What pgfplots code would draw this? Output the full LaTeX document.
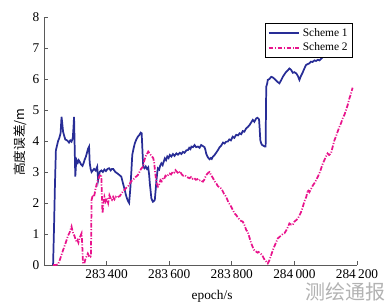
\documentclass[border=0pt]{standalone}
\usepackage{fontspec}
\setmainfont{Liberation Serif}
\newfontfamily\cjk{Noto Sans CJK SC}
\usepackage{pgfplots}
\pgfplotsset{compat=1.18}
\definecolor{sblue}{RGB}{40,45,150}
\definecolor{smag}{RGB}{232,20,140}
\definecolor{axgray}{RGB}{90,90,90}
\begin{document}
\begin{tikzpicture}
\useasboundingbox (-33pt,-30.75pt) rectangle (260.25pt,198.75pt);
\begin{axis}[
  at={(0pt,0pt)}, anchor=south west,
  scale only axis, width=234.75pt, height=186pt,
  xmin=283200, xmax=284200, ymin=0, ymax=8,
  scaled x ticks=false, scaled y ticks=false,
  axis x line=bottom, axis y line=left,
  axis line style={-, color=axgray, line width=0.6pt},
  tick style={color=axgray, line width=0.6pt},
  tick align=inside, major tick length=3pt,
  xtick={283400,283600,283800,284000,284200},
  xticklabels={283\,400,283\,600,283\,800,284\,000,284\,200},
  ytick={0,1,2,3,4,5,6,7,8},
  /pgf/number format/assume math mode=true,
  tick label style={font=\fontsize{10}{12}\selectfont},
  xlabel={epoch/s},
  xlabel style={at={(axis description cs:0.537,0)}, anchor=center, yshift=-23.25pt, font=\fontsize{10}{12}\selectfont},
  ylabel={\cjk 高度误差/m},
  ylabel style={at={(axis description cs:-0.077,0.496)}, anchor=center, font=\fontsize{9.5}{12}\selectfont},
  legend style={at={(0.987,0.976)}, anchor=north east, draw=black, line width=0.6pt,
    fill=white, font=\fontsize{8.6}{9.5}\selectfont, inner sep=1.6pt, row sep=-0.5pt,
    cells={anchor=west}},
  legend image code/.code={\draw[#1] (0pt,0pt) -- (23pt,0pt);},
]
\addplot[sblue, line width=1.3pt] coordinates {
(283229,0) (283232,1.2) (283235,2.6) (283238,3.7) (283242,3.87) (283245,4.0) (283249,4.1)
(283253,4.25) (283256,4.78) (283258,4.6) (283261,4.3) (283265,4.15) (283268,4.05) (283272,4.03)
(283276,4.0) (283280,3.95) (283284,4.02) (283288,3.98) (283292,4.1) (283294,4.4) (283296,4.78)
(283298,3.8) (283300,2.85) (283302,3.2) (283304,3.39) (283308,3.3) (283311,3.38) (283314,3.33)
(283318,3.25) (283323,3.2) (283327,3.3) (283330,3.4) (283334,3.5) (283338,3.65) (283341,3.76)
(283344,3.82) (283346,3.3) (283349,3.1) (283352,3.0) (283356,3.05) (283360,3.1) (283365,3.05)
(283370,3.17) (283373,2.74) (283376,2.9) (283378,3.0) (283383,3.05) (283388,3.0) (283393,3.08)
(283398,3.03) (283403,3.1) (283408,3.12) (283413,3.05) (283417,3.1) (283421,3.1) (283428,3.0)
(283435,2.95) (283441,2.9) (283447,2.85) (283452,2.65) (283458,2.42) (283462,2.25) (283465,2.15)
(283469,2.05) (283472,2.0) (283474,2.25) (283476,2.5) (283479,3.0) (283482,3.55) (283486,3.75)
(283490,3.92) (283495,4.05) (283500,4.14) (283505,4.2) (283509,4.27) (283512,4.25)
(283515,3.6) (283517,3.17) (283521,3.12) (283525,3.18) (283529,3.1) (283533,3.15) (283536,2.9)
(283538,2.64) (283541,2.35) (283543,2.15) (283546,2.08) (283548,2.04) (283551,2.06) (283554,2.1)
(283557,2.45) (283559,2.7) (283562,3.0) (283564,3.12) (283568,3.08) (283571,3.2) (283575,3.28)
(283579,3.22) (283583,3.35) (283586,3.44) (283590,3.38) (283594,3.5) (283598,3.45) (283602,3.55)
(283607,3.5) (283612,3.58) (283617,3.52) (283623,3.6) (283628,3.56) (283634,3.62) (283639,3.58)
(283644,3.65) (283649,3.62) (283655,3.7) (283660,3.71) (283664,3.78) (283668,3.74) (283671,3.82)
(283676,3.8) (283681,3.87) (283686,3.8) (283692,3.82) (283697,3.78) (283702,3.87) (283707,3.84)
(283713,3.8) (283716,3.7) (283718,3.6) (283722,3.5) (283726,3.44) (283729,3.41) (283733,3.45)
(283736,3.42) (283740,3.5) (283745,3.55) (283750,3.62) (283756,3.71) (283761,3.8) (283766,3.85)
(283772,3.95) (283777,3.92) (283782,3.98) (283787,3.98) (283792,4.05) (283797,4.02) (283803,4.14)
(283808,4.1) (283814,4.2) (283820,4.18) (283825,4.25) (283830,4.22) (283835,4.32) (283840,4.3)
(283846,4.41) (283851,4.45) (283857,4.52) (283862,4.6) (283867,4.68) (283872,4.62) (283878,4.73)
(283882,4.75) (283887,4.7) (283889,4.4) (283891,4.03) (283894,3.92) (283897,3.87) (283901,3.85)
(283905,3.82) (283908,3.82) (283909,4.8) (283910,5.75) (283913,5.85) (283915,5.97) (283920,6.0)
(283926,6.07) (283931,6.05) (283937,6.0) (283942,5.95) (283947,5.9) (283952,5.86) (283957,5.95)
(283963,6.07) (283968,6.15) (283973,6.22) (283979,6.28) (283984,6.34) (283989,6.3) (283995,6.2)
(284000,6.22) (284006,6.18) (284011,6.1) (284016,5.97) (284019,6.05) (284021,6.1) (284026,6.2)
(284031,6.32) (284037,6.45) (284042,6.48) (284047,6.5) (284053,6.56) (284058,6.55) (284064,6.6)
(284069,6.58) (284075,6.62) (284080,6.6) (284085,6.65) (284090,6.7) (284096,6.72) (284101,6.77)
(284106,6.8) (284112,6.83) (284117,6.8) (284122,6.86) (284128,6.88) (284133,7.04) (284140,7.1)
(284150,7.18) (284160,7.25) (284170,7.33) (284180,7.42)
};
\addlegendentry{Scheme 1}
\addplot[smag, line width=1.3pt, dash pattern=on 3.5pt off 1.2pt on 0.8pt off 1.2pt] coordinates {
(283229,0) (283237,0) (283245,0.02) (283250,0.15) (283255,0.3) (283261,0.48) (283266,0.62)
(283272,0.8) (283277,0.95) (283282,1.05) (283285,1.15) (283288,1.24) (283291,1.1) (283294,1.0)
(283297,0.95) (283300,0.85) (283304,0.75) (283307,0.8) (283310,0.72) (283313,0.85) (283317,0.95)
(283320,1.02) (283322,0.7) (283324,0.2) (283325,0.05) (283329,0.05) (283332,0.18) (283336,0.28)
(283340,0.37) (283343,0.3) (283346,0.33) (283349,0.28) (283350,0.3) (283351,1.2) (283352,2.1)
(283356,2.26) (283360,2.2) (283364,2.42) (283368,2.6) (283372,2.74) (283376,2.84) (283380,2.92)
(283383,2.9) (283385,2.2) (283387,1.67) (283390,2.0) (283393,2.2) (283397,2.05) (283401,2.15)
(283405,2.0) (283409,2.25) (283413,2.15) (283417,2.1) (283421,2.2) (283425,2.12) (283429,2.2)
(283433,2.17) (283437,2.2) (283442,2.22) (283447,2.3) (283452,2.37) (283457,2.42) (283462,2.48)
(283468,2.53) (283473,2.6) (283478,2.7) (283484,2.74) (283489,2.8) (283494,2.85) (283500,2.9)
(283505,3.0) (283510,3.1) (283516,3.17) (283520,3.35) (283524,3.49) (283527,3.55) (283530,3.6)
(283533,3.66) (283537,3.6) (283541,3.55) (283545,3.5) (283549,3.45) (283552,3.3) (283555,3.0)
(283558,2.75) (283561,2.6) (283564,2.53) (283568,2.6) (283572,2.74) (283576,2.7) (283580,2.8)
(283584,2.78) (283588,2.88) (283592,2.85) (283596,2.9) (283601,2.95) (283606,2.92) (283611,3.0)
(283616,2.98) (283620,3.06) (283625,3.0) (283630,2.95) (283635,3.02) (283640,2.92) (283645,2.88)
(283650,2.9) (283655,2.85) (283660,2.82) (283665,2.8) (283670,2.84) (283675,2.78) (283680,2.8)
(283685,2.75) (283690,2.77) (283695,2.72) (283700,2.74) (283705,2.7) (283708,2.69) (283712,2.75)
(283716,2.85) (283720,2.92) (283725,2.98) (283729,3.0) (283734,2.9) (283740,2.8) (283745,2.7)
(283750,2.64) (283755,2.55) (283760,2.5) (283766,2.47) (283770,2.4) (283775,2.3) (283782,2.2)
(283786,2.1) (283790,2.0) (283794,1.95) (283798,1.88) (283802,1.8) (283806,1.72) (283810,1.65)
(283814,1.61) (283818,1.55) (283822,1.5) (283826,1.45) (283830,1.42) (283835,1.4) (283840,1.3)
(283846,1.13) (283851,1.07) (283856,0.9) (283862,0.7) (283866,0.6) (283870,0.5) (283874,0.45)
(283878,0.43) (283882,0.4) (283886,0.42) (283890,0.38) (283894,0.35) (283898,0.3) (283902,0.22)
(283906,0.15) (283910,0.11) (283915,0.05) (283920,0.15) (283925,0.3) (283931,0.48) (283936,0.6)
(283941,0.72) (283947,0.86) (283952,0.9) (283957,0.95) (283963,1.0) (283968,1.02) (283973,1.1)
(283978,1.2) (283984,1.34) (283990,1.3) (283995,1.3) (284000,1.4) (284006,1.45) (284011,1.5)
(284016,1.6) (284021,1.7) (284027,1.88) (284032,2.05) (284038,2.2) (284043,2.42) (284048,2.35)
(284053,2.45) (284058,2.55) (284064,2.64) (284070,2.75) (284075,2.85) (284080,2.96) (284085,3.1)
(284090,3.25) (284096,3.39) (284101,3.5) (284106,3.6) (284111,3.55) (284117,3.6) (284122,3.8)
(284128,4.03) (284133,4.15) (284138,4.3) (284144,4.46) (284150,4.6) (284155,4.75) (284160,4.85)
(284165,5.0) (284170,5.15) (284175,5.35) (284180,5.5) (284186,5.72)
};
\addlegendentry{Scheme 2}
\end{axis}
\node[text=black!30, font=\cjk\fontsize{15}{15}\selectfont] at (225.75pt,-20.25pt) {测绘通报};
\end{tikzpicture}
\end{document}
